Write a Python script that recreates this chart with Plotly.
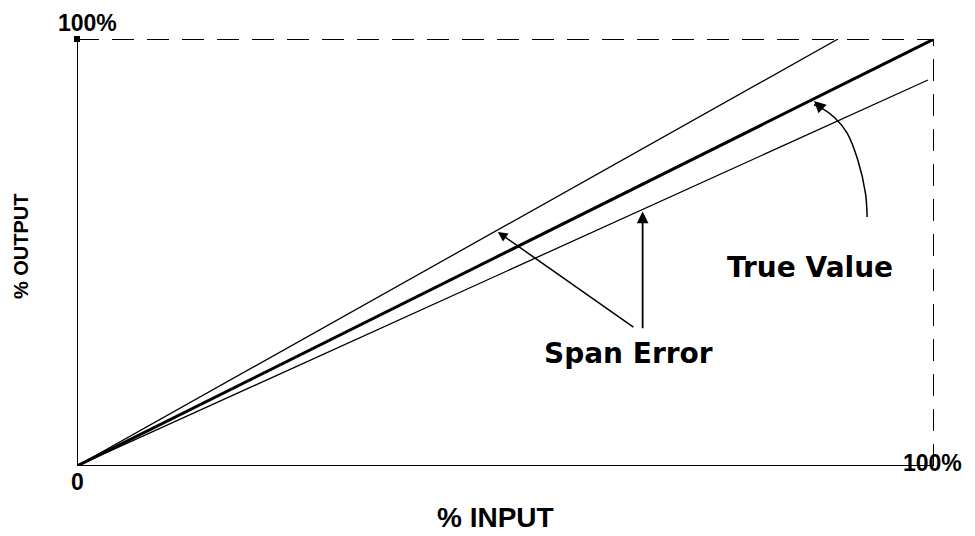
import plotly.graph_objects as go

# ---- data (percent units) ----
true_x = [0, 100]
true_y = [0, 100]
upper_x = [0, 88.8]
upper_y = [0, 100]
lower_x = [0, 99.3]
lower_y = [0, 90.4]
# curved "True Value" pointer (percent units)
arc_x = [92.2, 92.0, 91.1, 89.85, 88.45, 86.9, 86.0]
arc_y = [58.3, 63.9, 71.7, 78.0, 81.5, 83.8, 84.6]
tick_zero = "0"
tick_full = "100%"
x_title = "% INPUT"
y_title = "% OUTPUT"

fig = go.Figure()
fig.add_trace(go.Scatter(x=upper_x, y=upper_y, mode="lines",
                         line=dict(color="black", width=1.3), hoverinfo="skip"))
fig.add_trace(go.Scatter(x=lower_x, y=lower_y, mode="lines",
                         line=dict(color="black", width=1.3), hoverinfo="skip"))
fig.add_trace(go.Scatter(x=true_x, y=true_y, mode="lines",
                         line=dict(color="black", width=3), hoverinfo="skip"))
fig.add_trace(go.Scatter(x=arc_x, y=arc_y, mode="lines",
                         line=dict(color="black", width=1.5, shape="spline"),
                         hoverinfo="skip"))
fig.add_trace(go.Scatter(x=[0], y=[100], mode="markers",
                         marker=dict(color="black", size=6, symbol="square"),
                         hoverinfo="skip", cliponaxis=False))

# frame
fig.add_shape(type="line", x0=0, y0=0, x1=100, y1=0, line=dict(color="black", width=2))
fig.add_shape(type="line", x0=0, y0=0, x1=0, y1=100, line=dict(color="black", width=2))
fig.add_shape(type="line", x0=0, y0=100, x1=100, y1=100,
              line=dict(color="black", width=2, dash="22px,13px"))
fig.add_shape(type="line", x0=100, y0=0, x1=100, y1=100,
              line=dict(color="black", width=2, dash="22px,13px"))

big = dict(family="DejaVu Sans", size=28, color="black", weight="bold")
lab = dict(family="Liberation Sans, Arial", size=23, color="black", weight="bold")

ann = []
# arrows
ann.append(dict(x=49.1, y=54.8, ax=65.1, ay=32.3, xref="x", yref="y", axref="x", ayref="y",
                text="", showarrow=True, arrowhead=2, arrowsize=1.3, arrowwidth=1.5,
                arrowcolor="black", standoff=0))
ann.append(dict(x=66.0, y=59.6, ax=66.0, ay=31.9, xref="x", yref="y", axref="x", ayref="y",
                text="", showarrow=True, arrowhead=2, arrowsize=1.3, arrowwidth=1.8,
                arrowcolor="black", standoff=0))
ann.append(dict(x=arc_x[-1], y=arc_y[-1] + 0.9, ax=arc_x[-2], ay=arc_y[-2], xref="x", yref="y",
                axref="x", ayref="y", text="", showarrow=True, arrowhead=2, arrowsize=1.3,
                arrowwidth=1.8, arrowcolor="black", standoff=0))


def paper_text(x, y, text, font, angle=0, xanchor="center", yanchor="middle"):
    return dict(x=x / 100.0, y=y / 100.0, xref="paper", yref="paper", text=text,
                showarrow=False, font=font, textangle=angle,
                xanchor=xanchor, yanchor=yanchor)


ann.append(paper_text(85.5, 46.6, "True Value", big))
ann.append(paper_text(64.4, 26.4, "Span Error", big))
ann.append(paper_text(48.8, -12.0, x_title,
                      dict(family="Liberation Sans, Arial", size=28, color="black",
                           weight="bold")))
ann.append(paper_text(-69 / 8.57, 51.5, y_title,
                      dict(family="Liberation Sans Narrow, Liberation Sans, Arial", size=20,
                           color="black", weight="bold"), angle=-90, xanchor="left"))
ann.append(paper_text(0.1, -3.8, tick_zero, lab))
ann.append(paper_text(1.2, 100 + 31 / 4.27, tick_full, lab, yanchor="top"))
ann.append(paper_text(99.8, 0.6, tick_full, lab))

fig.update_layout(
    width=967, height=528,
    margin=dict(l=69, r=41, t=31, b=70),
    paper_bgcolor="white", plot_bgcolor="white",
    showlegend=False,
    annotations=ann,
    xaxis=dict(range=[0, 100], visible=False, fixedrange=True),
    yaxis=dict(range=[0, 100], visible=False, fixedrange=True),
)
fig.write_html("out.html")
